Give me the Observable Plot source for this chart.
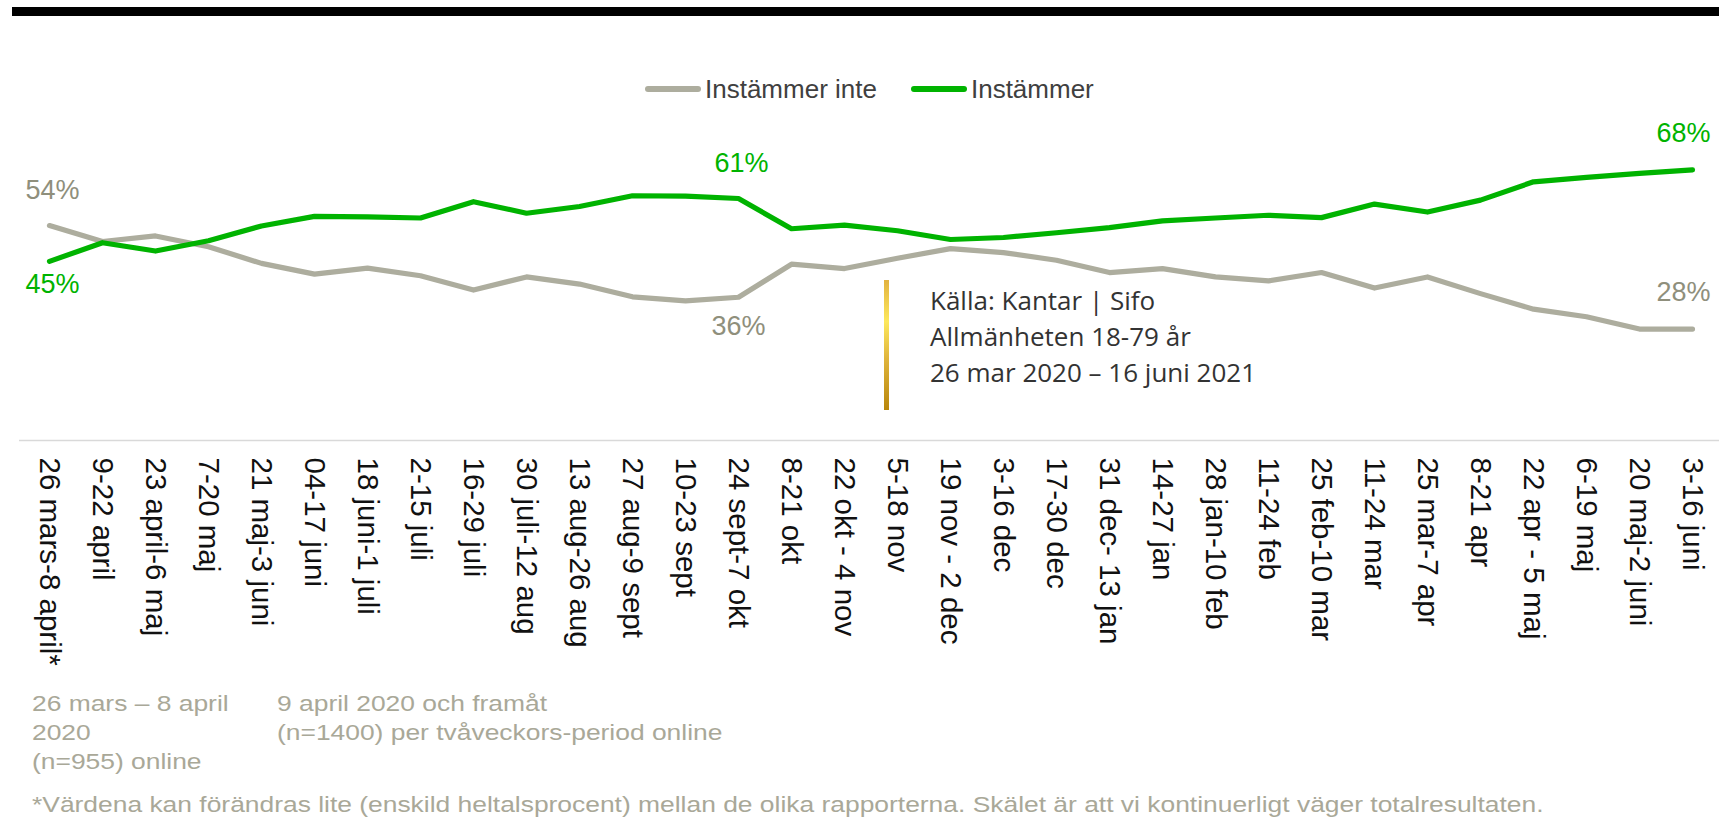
<!DOCTYPE html>
<html>
<head>
<meta charset="utf-8">
<script src="https://cdn.jsdelivr.net/npm/d3@7"></script>
<script src="https://cdn.jsdelivr.net/npm/@observablehq/plot@0.6"></script>
<style>
  html, body { margin: 0; padding: 0; background: #fff; }
  #wrap { position: relative; width: 1719px; height: 826px; overflow: hidden; background: #fff; }
  #wrap > svg { position: absolute; left: 0; top: 0; }
  .topbar { position: absolute; left: 12px; top: 7px; width: 1707px; height: 9px; background: #000; }
  .legend { position: absolute; top: 70px; left: 645px; height: 38px; display: flex; align-items: center;
            font-family: "Liberation Sans", Arial, sans-serif; font-size: 26px; color: #404040; white-space: nowrap; }
  .legend .item { display: flex; align-items: center; margin-right: 34px; }
  .legend .sw { width: 56px; height: 6px; border-radius: 3px; margin-right: 4px; }
  .note { position: absolute; font-family: "Liberation Sans", Arial, sans-serif; font-size: 22px; line-height: 29px;
          color: #a9a898; white-space: nowrap; transform: scaleX(1.2); transform-origin: 0 0; }
  .source { position: absolute; left: 884px; top: 280px; height: 130px; }
  .source .bar { position: absolute; left: 0; top: 0; width: 5px; height: 130px;
                 background: linear-gradient(to bottom, #e2b23f 0%, #fde85c 32%, #e0b53c 60%, #b8860b 100%); }
  .source .txt { position: absolute; left: 46px; top: 2px; font-family: "Open Sans", sans-serif; font-size: 26px;
                 line-height: 36px; color: #333; white-space: nowrap; }
</style>
</head>
<body>
<div id="wrap"></div>
<script>
// ---- Data ----
const periods = [
  "26 mars-8 april*", "9-22 april", "23 april-6 maj", "7-20 maj", "21 maj-3 juni", "04-17 juni",
  "18 juni-1 juli", "2-15 juli", "16-29 juli", "30 juli-12 aug", "13 aug-26 aug", "27 aug-9 sept",
  "10-23 sept", "24 sept-7 okt", "8-21 okt", "22 okt - 4 nov", "5-18 nov", "19 nov - 2 dec",
  "3-16 dec", "17-30 dec", "31 dec- 13 jan", "14-27 jan", "28 jan-10 feb", "11-24 feb",
  "25 feb-10 mar", "11-24 mar", "25 mar-7 apr", "8-21 apr", "22 apr - 5 maj", "6-19 maj",
  "20 maj-2 juni", "3-16 juni"
];
const instammer = [45, 49.7, 47.6, 50.2, 53.9, 56.3, 56.2, 55.9, 60.0, 57.1, 58.8, 61.5, 61.4, 60.8,
  53.2, 54.1, 52.7, 50.5, 51.0, 52.2, 53.5, 55.2, 55.9, 56.6, 56.0, 59.4, 57.4, 60.4, 65.0, 66.1, 67.1, 68];
const instammerInte = [54, 50.0, 51.4, 48.7, 44.5, 41.8, 43.3, 41.4, 37.8, 41.1, 39.3, 36.1, 35.1, 36,
  44.3, 43.2, 45.8, 48.2, 47.2, 45.3, 42.2, 43.2, 41.1, 40.1, 42.2, 38.3, 41.1, 36.9, 33.0, 31.1, 28.0, 28];
const seriesNames = ["Instämmer inte", "Instämmer"];
const seriesColors = ["#adad9e", "#00b300"];
const labelTextColors = ["#8f8f7c", "#00b300"];
// labelled points: [series index, period index, label text, placement]
const valueLabels = [
  [0, 0, "54%", "above"], [1, 0, "45%", "below"],
  [1, 13, "61%", "above"], [0, 13, "36%", "belowFar"],
  [1, 31, "68%", "aboveEnd"], [0, 31, "28%", "aboveEnd"]
];
const notes = [
  "26 mars – 8 april<br>2020<br>(n=955) online",
  "9 april 2020 och framåt<br>(n=1400) per tvåveckors-period online",
  "*Värdena kan förändras lite (enskild heltalsprocent) mellan de olika rapporterna. Skälet är att vi kontinuerligt väger totalresultaten."
];
const sourceLines = ["Källa: Kantar | Sifo", "Allmänheten 18-79 år", "26 mar 2020 – 16 juni 2021"];

// ---- Build ----
const seriesVals = [instammerInte, instammer];
const rows = [];
seriesVals.forEach((vals, s) => {
  vals.forEach((v, i) => rows.push({series: seriesNames[s], period: periods[i], value: v}));
});
const labelRows = valueLabels.map(([s, i, text, pos]) => ({
  series: seriesNames[s], period: periods[i], value: seriesVals[s][i], text, pos, color: labelTextColors[s]
}));
const placement = {
  above:    {dx: 3,  dy: -27, textAnchor: "middle"},
  below:    {dx: 3,  dy: 32,  textAnchor: "middle"},
  belowFar: {dx: 0,  dy: 38,  textAnchor: "middle"},
  aboveEnd: {dx: 18, dy: -28, textAnchor: "end"}
};
const labelMarks = Object.entries(placement).map(([key, p]) =>
  Plot.text(labelRows.filter(d => d.pos === key), {
    x: "period", y: "value", text: "text", fill: "color", fontSize: 27, lineAnchor: "bottom",
    dx: p.dx, dy: p.dy, textAnchor: p.textAnchor
  })
);

const plot = Plot.plot({
  width: 1719,
  height: 826,
  marginTop: 42,
  marginBottom: 386,
  marginLeft: 19,
  marginRight: -2,
  x: {type: "point", domain: periods, padding: 0.5, label: null},
  y: {domain: [0, 100], axis: null},
  style: {fontFamily: "'Liberation Sans', Arial, sans-serif", background: "transparent", overflow: "visible"},
  marks: [
    Plot.ruleY([0], {stroke: "#d9d9d9", strokeWidth: 1.5}),
    Plot.axisX({tickRotate: 90, tickSize: 0, tickPadding: 17, fontSize: 29.5, fill: "#111", label: null}),
    Plot.line(rows.filter(d => d.series === seriesNames[0]), {
      x: "period", y: "value", stroke: seriesColors[0], strokeWidth: 5.2, strokeLinecap: "round", strokeLinejoin: "round"
    }),
    Plot.line(rows.filter(d => d.series === seriesNames[1]), {
      x: "period", y: "value", stroke: seriesColors[1], strokeWidth: 5.2, strokeLinecap: "round", strokeLinejoin: "round"
    }),
    ...labelMarks
  ]
});

const wrap = document.getElementById("wrap");
wrap.appendChild(plot);

const bar = document.createElement("div");
bar.className = "topbar";
wrap.appendChild(bar);

const legend = document.createElement("div");
legend.className = "legend";
seriesNames.forEach((name, s) => {
  const item = document.createElement("div");
  item.className = "item";
  const sw = document.createElement("span");
  sw.className = "sw";
  sw.style.background = seriesColors[s];
  const t = document.createElement("span");
  t.textContent = name;
  item.appendChild(sw);
  item.appendChild(t);
  legend.appendChild(item);
});
wrap.appendChild(legend);

const notePos = [[31.7, 689], [276.7, 689], [31.7, 790]];
notes.forEach((html, k) => {
  const n = document.createElement("div");
  n.className = "note";
  n.style.left = notePos[k][0] + "px";
  n.style.top = notePos[k][1] + "px";
  n.innerHTML = html;
  wrap.appendChild(n);
});

const src = document.createElement("div");
src.className = "source";
src.innerHTML = '<div class="bar"></div><div class="txt">' + sourceLines.join("<br>") + '</div>';
wrap.appendChild(src);
</script>
</body>
</html>
